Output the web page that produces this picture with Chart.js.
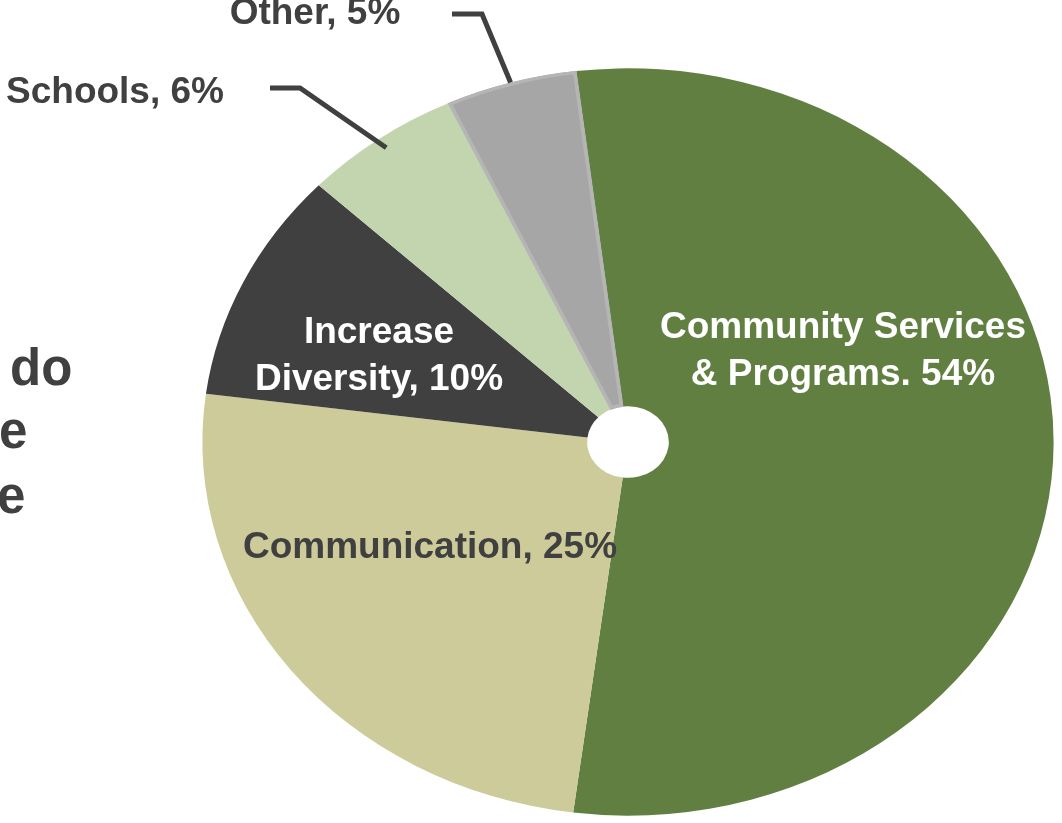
<!DOCTYPE html>
<html>
<head>
<meta charset="utf-8">
<script src="https://cdn.jsdelivr.net/npm/chart.js@4/dist/chart.umd.min.js"></script>
<style>
  body { margin: 0; background: #fff; overflow: hidden; }
  #wrap { position: relative; width: 1062px; height: 823px; }
  .side { position: absolute; font: bold 51px "Liberation Sans", Arial, sans-serif; color: #404040; line-height: 50px; white-space: nowrap; }
</style>
</head>
<body>
<div id="wrap">
  <div class="side" style="left:10px; top:343px;">do</div>
  <div class="side" style="left:-1px; top:406px;">e</div>
  <div class="side" style="left:-3px; top:471px;">e</div>
  <canvas id="myChart"></canvas>
</div>
<script>
const categories = ['Community Services & Programs', 'Communication', 'Increase Diversity', 'Schools', 'Other'];
const shares = [54, 25, 10, 6, 5];
const sliceColors = ['#627f42', '#cccb99', '#404040', '#c3d5ae', '#a6a6a6'];

// text drawn for each slice, one entry per line
const sliceLabels = [
    ['Community Services', '& Programs. 54%'],
    ['Communication, 25%'],
    ['Increase', 'Diversity, 10%'],
    ['Schools, 6%'],
    ['Other, 5%']
];

const stretchX = 426 / 374;   // the pie is drawn wider than tall
const labelFont = 'bold 37px "Liberation Sans", Arial, sans-serif';

// where each label sits, as offsets from the pie centre
const labelSpots = [
    { dx: 215, dy: -114, color: '#ffffff' },
    { dx: -198, dy: 106, color: '#404040' },
    { dx: -249, dy: -109, color: '#ffffff' },
    { dx: -513, dy: -349, color: '#404040', lead: [[-358, -354], [-328, -354]], reach: 0.97 },
    { dx: -313, dy: -428, color: '#404040', lead: [[-176, -428], [-146, -428]], reach: 1.0 }
];

// squash the arcs into an ellipse around the centre
const ellipsePie = {
    id: 'ellipsePie',
    beforeDatasetsDraw(chart) {
        const arc = chart.getDatasetMeta(0).data[0];
        const ctx = chart.ctx;
        ctx.save();
        ctx.translate(arc.x, 0);
        ctx.scale(stretchX, 1);
        ctx.translate(-arc.x, 0);
    },
    afterDatasetsDraw(chart) {
        chart.ctx.restore();
    }
};

const sliceText = {
    id: 'sliceText',
    afterDraw(chart) {
        const ctx = chart.ctx;
        const arcs = chart.getDatasetMeta(0).data;
        const cx = arcs[0].x, cy = arcs[0].y;
        ctx.save();
        ctx.font = labelFont;
        ctx.textAlign = 'center';
        ctx.textBaseline = 'middle';
        arcs.forEach((arc, i) => {
            const spot = labelSpots[i];
            const lines = sliceLabels[i];
            ctx.fillStyle = spot.color;
            lines.forEach((line, j) => {
                ctx.fillText(line, cx + spot.dx, cy + spot.dy + j * 47);
            });
            if (spot.lead) {
                const mid = (arc.startAngle + arc.endAngle) / 2;
                const r = arc.outerRadius * spot.reach;
                ctx.strokeStyle = '#404040';
                ctx.lineWidth = 5;
                ctx.lineJoin = 'miter';
                ctx.lineCap = 'butt';
                ctx.setLineDash([]);
                ctx.beginPath();
                ctx.moveTo(cx + spot.lead[0][0], cy + spot.lead[0][1]);
                ctx.lineTo(cx + spot.lead[1][0], cy + spot.lead[1][1]);
                ctx.lineTo(cx + Math.cos(mid) * r * stretchX, cy + Math.sin(mid) * r);
                ctx.stroke();
            }
        });
        ctx.restore();
    }
};

let ctx = document.getElementById('myChart');
const data = {
    labels: categories,
    datasets: [{
        data: shares,
        backgroundColor: sliceColors,
        borderWidth: [0, 0, 0, 0, 3],
        borderColor: '#b5b5b5',
        borderAlign: 'inner',
        clip: false
    }]
};

const config = {
    type: 'doughnut',
    data: data,
    options: {
        responsive: true,
        maintainAspectRatio: false,
        animation: false,
        cutout: '9.5%',
        rotation: -7,
        layout: {
            padding: { top: 68, bottom: 7, left: 254, right: 60 }
        },
        plugins: {
            legend: { display: false },
            tooltip: { enabled: false }
        }
    },
    plugins: [ellipsePie, sliceText]
};

const myChart = new Chart(ctx, config);
</script>
</body>
</html>
